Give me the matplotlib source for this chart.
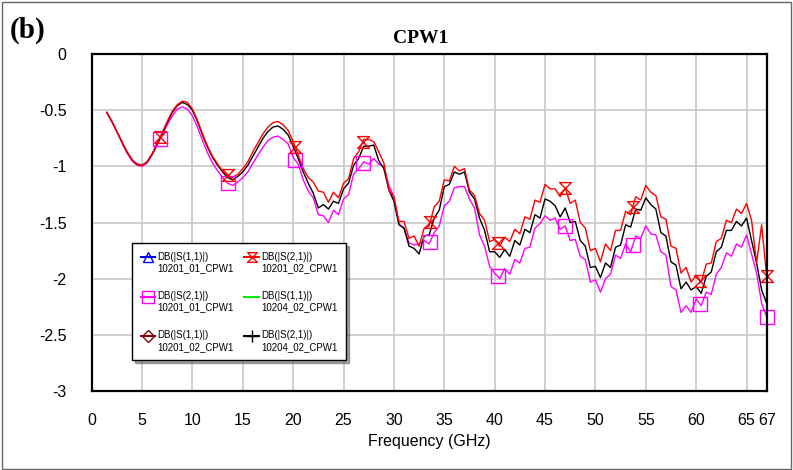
import numpy as np
import matplotlib
matplotlib.use("Agg")
import matplotlib.pyplot as plt
from matplotlib.path import Path
from matplotlib.lines import Line2D
from matplotlib.patches import Rectangle
from matplotlib.legend_handler import HandlerLine2D

# ---------------- data ----------------
freq = np.arange(1.5, 67.01, 0.5)  # GHz grid of the sweep

s21_10201_02 = [  # red
    -0.52, -0.60, -0.69, -0.78, -0.87, -0.94, -0.98, -0.99, -0.96, -0.89,
    -0.79, -0.70, -0.60, -0.51, -0.45, -0.42, -0.43, -0.49, -0.59, -0.71,
    -0.82, -0.91, -0.98, -1.04, -1.08, -1.10, -1.07, -1.02, -0.96, -0.87,
    -0.79, -0.71, -0.65, -0.61, -0.60, -0.63, -0.68, -0.78, -0.90, -1.02,
    -1.10,
    -1.14, -1.22, -1.23, -1.32, -1.23, -1.28, -1.15, -1.11, -0.93, -0.87,
    -0.76, -0.76, -0.78, -0.87, -0.97, -1.21, -1.27, -1.49, -1.49, -1.64,
    -1.62, -1.71, -1.55, -1.53, -1.36, -1.31, -1.12, -1.13, -1.00, -1.04,
    -1.02, -1.21, -1.26, -1.42, -1.48, -1.67, -1.65, -1.71, -1.63, -1.67,
    -1.56, -1.60, -1.45, -1.47, -1.30, -1.32, -1.16, -1.20, -1.20, -1.27,
    -1.19, -1.33, -1.30, -1.50, -1.55, -1.75, -1.73, -1.85, -1.69, -1.75,
    -1.57, -1.57, -1.40, -1.43, -1.27, -1.30, -1.17, -1.23, -1.26, -1.45,
    -1.47, -1.71, -1.73, -1.95, -1.90, -2.03, -1.97, -2.03, -1.87, -1.86,
    -1.67, -1.64, -1.48, -1.50, -1.38, -1.42, -1.33, -1.48, -1.86, -1.52,
    -1.98,
]

s21_10204_02 = [  # black
    -0.52, -0.60, -0.69, -0.78, -0.87, -0.94, -0.98, -0.99, -0.96, -0.89,
    -0.80, -0.71, -0.61, -0.52, -0.46, -0.43, -0.45, -0.50, -0.60, -0.72,
    -0.83, -0.92, -0.99, -1.05, -1.10, -1.12, -1.09, -1.05, -0.99, -0.91,
    -0.83, -0.75, -0.69, -0.65, -0.64, -0.67, -0.72, -0.82, -0.93, -1.05,
    -1.15,
    -1.24, -1.37, -1.34, -1.38, -1.31, -1.33, -1.20, -1.15, -0.99, -0.93,
    -0.82, -0.82, -0.81, -0.95, -1.02, -1.21, -1.31, -1.52, -1.55, -1.71,
    -1.73, -1.78, -1.62, -1.61, -1.46, -1.39, -1.18, -1.16, -1.05, -1.07,
    -1.05, -1.23, -1.29, -1.46, -1.57, -1.76, -1.76, -1.81, -1.74, -1.80,
    -1.66, -1.70, -1.56, -1.59, -1.43, -1.46, -1.29, -1.31, -1.35, -1.45,
    -1.37, -1.50, -1.49, -1.66, -1.71, -1.90, -1.89, -1.99, -1.86, -1.90,
    -1.72, -1.70, -1.52, -1.54, -1.38, -1.39, -1.28, -1.34, -1.38, -1.59,
    -1.62, -1.85, -1.88, -2.09, -2.03, -2.10, -2.07, -2.13, -1.98, -1.94,
    -1.76, -1.72, -1.57, -1.57, -1.49, -1.53, -1.46, -1.66, -1.86, -2.10,
    -2.22,
]

s21_10201_01 = [  # magenta
    -0.52, -0.60, -0.69, -0.79, -0.88, -0.95, -0.99, -1.00, -0.97, -0.90,
    -0.81, -0.72, -0.63, -0.55, -0.49, -0.47, -0.49, -0.55, -0.65, -0.77,
    -0.88, -0.97, -1.04, -1.10, -1.15, -1.17, -1.14, -1.10, -1.05, -0.97,
    -0.90, -0.83, -0.77, -0.74, -0.73, -0.76, -0.80, -0.92, -0.98, -1.12,
    -1.22,
    -1.28, -1.43, -1.44, -1.50, -1.39, -1.43, -1.29, -1.25, -1.07, -1.02,
    -0.96, -0.98, -0.93, -0.98, -1.00, -1.17, -1.27, -1.51, -1.55, -1.68,
    -1.70, -1.69, -1.66, -1.69, -1.59, -1.53, -1.35, -1.31, -1.19, -1.18,
    -1.18, -1.29, -1.37, -1.61, -1.71, -1.89, -1.95, -2.00, -1.91, -1.96,
    -1.83, -1.86, -1.73, -1.72, -1.55, -1.51, -1.44, -1.48, -1.46, -1.56,
    -1.53, -1.66, -1.65, -1.80, -1.83, -2.03, -2.01, -2.12, -2.00, -1.96,
    -1.79, -1.82, -1.69, -1.76, -1.62, -1.64, -1.53, -1.60, -1.61, -1.76,
    -1.79, -2.07, -2.10, -2.30, -2.24, -2.30, -2.18, -2.24, -2.12, -2.14,
    -1.96, -1.90, -1.77, -1.80, -1.69, -1.72, -1.61, -1.78, -1.95, -2.22,
    -2.34,
]

marker_freqs = [6.8, 13.5, 20.2, 26.9, 33.6, 40.3, 47.0, 53.7, 60.4, 67.0]

xticks = [0, 5, 10, 15, 20, 25, 30, 35, 40, 45, 50, 55, 60, 65, 67]
yticks = [0, -0.5, -1, -1.5, -2, -2.5, -3]
ytick_labels = ["0", "-0.5", "-1", "-1.5", "-2", "-2.5", "-3"]

legend_labels = [
    "DB(|S(1,1)|)\n10201_01_CPW1",
    "DB(|S(2,1)|)\n10201_01_CPW1",
    "DB(|S(1,1)|)\n10201_02_CPW1",
    "DB(|S(2,1)|)\n10201_02_CPW1",
    "DB(|S(1,1)|)\n10204_02_CPW1",
    "DB(|S(2,1)|)\n10204_02_CPW1",
]


class TopLineHandler(HandlerLine2D):
    """Align the legend handle with the first line of a two-line label."""
    def create_artists(self, legend, orig_handle, xdescent, ydescent,
                       width, height, fontsize, trans):
        arts = super().create_artists(legend, orig_handle, xdescent, ydescent,
                                      width, height, fontsize, trans)
        for a in arts:
            a.set_ydata(np.asarray(a.get_ydata(), dtype=float) + 0.6 * fontsize)
        return arts


# ---------------- figure ----------------
plt.rcParams["font.family"] = ["Liberation Sans", "DejaVu Sans"]
fig = plt.figure(figsize=(7.93, 4.70), dpi=100)
fig.patches.append(Rectangle((0.002, 0.002), 0.996, 0.994, transform=fig.transFigure,
                             fill=False, edgecolor="#666666", linewidth=1.0))
ax = fig.add_axes([0.1156, 0.168, 0.8512, 0.717])

hourglass = Path([(-1, 1), (1, 1), (-1, -1), (1, -1), (-1, 1)],
                 [Path.MOVETO, Path.LINETO, Path.LINETO, Path.LINETO, Path.CLOSEPOLY])

ax.plot(freq, s21_10201_01, color="#ff00ff", lw=1.0, zorder=3)
ax.plot(freq, s21_10204_02, color="black", lw=1.0, zorder=4)
ax.plot(freq, s21_10201_02, color="#ff0000", lw=1.0, zorder=5)

ax.plot(marker_freqs, np.interp(marker_freqs, freq, s21_10201_01), ls="none",
        marker="s", ms=9.5, mfc="none", mec="#ff00ff", mew=1.0, zorder=6, clip_on=False)
ax.plot(marker_freqs, np.interp(marker_freqs, freq, s21_10201_02), ls="none",
        marker=hourglass, ms=8.5, mfc="none", mec="#ff0000", mew=1.0, zorder=7, clip_on=False)

ax.set_xlim(0, 67)
ax.set_ylim(-3, 0)
ax.set_xticks(xticks)
ax.set_xticklabels([str(t) for t in xticks])
ax.set_yticks(yticks)
ax.set_yticklabels(ytick_labels)
ax.tick_params(axis="both", length=0, labelsize=11.5)
ax.tick_params(axis="x", pad=16)
ax.tick_params(axis="y", pad=18)
ax.grid(True, color="#c8c8c8", lw=1.2)
ax.set_axisbelow(True)
for sp in ax.spines.values():
    sp.set_linewidth(1.6)
    sp.set_zorder(10)

ax.set_xlabel("Frequency (GHz)", fontsize=11.5, labelpad=4)
fig.text(0.53, 0.918, "CPW1", ha="center", va="center", fontsize=14,
         fontweight="bold", family="Liberation Serif")
fig.text(0.012, 0.935, "(b)", ha="left", va="center", fontsize=21,
         fontweight="bold", family="Liberation Serif")

handles = [
    Line2D([], [], color="blue", marker="^", mfc="none", mec="blue", ms=7),
    Line2D([], [], color="#ff00ff", marker="s", mfc="none", mec="#ff00ff", ms=8),
    Line2D([], [], color="#8b0000", marker="D", mfc="none", mec="#8b0000", ms=6),
    Line2D([], [], color="#ff0000", marker=hourglass, mfc="none", mec="#ff0000", ms=7),
    Line2D([], [], color="#00ee00", lw=1.5),
    Line2D([], [], color="black", marker="+", ms=9),
]
leg = ax.legend(handles, legend_labels, ncol=2, loc="upper left",
                bbox_to_anchor=(0.0597, 0.439), borderaxespad=0, fontsize=7,
                handlelength=1.5, handletextpad=0.2, columnspacing=1.1,
                labelspacing=1.8, borderpad=0.9, fancybox=False, shadow=True,
                framealpha=1, edgecolor="black",
                handler_map={Line2D: TopLineHandler()})
leg.get_frame().set_linewidth(1.0)
leg.set_zorder(20)

fig.savefig("out.png", dpi=100)
